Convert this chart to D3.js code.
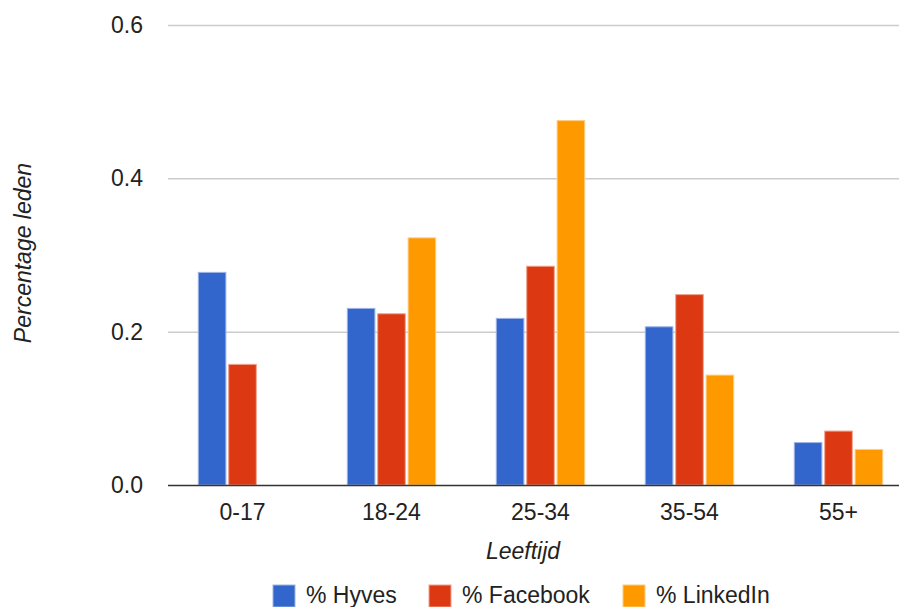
<!DOCTYPE html>
<html>
<head>
<meta charset="utf-8">
<script src="https://cdn.jsdelivr.net/npm/d3@7"></script>
<style>
  html, body { margin: 0; padding: 0; background: #fff; }
  text { font-family: "Liberation Sans", Arial, sans-serif; fill: #222; }
</style>
</head>
<body>
<div id="vis_container"></div>
<script>
// age groups and share of members per network
var ageGroups = ["0-17", "18-24", "25-34", "35-54", "55+"];
var seriesNames = ["% Hyves", "% Facebook", "% LinkedIn"];
var hyves    = [0.278, 0.231, 0.218, 0.207, 0.056];
var facebook = [0.158, 0.224, 0.286, 0.249, 0.071];
var linkedin = [0.000, 0.323, 0.476, 0.144, 0.047];
var yTicks = [0, 0.2, 0.4, 0.6];
var colors = ["#3366cc", "#dc3912", "#ff9900"];
var strokes = ["#9db4e6", "#f0a28c", "#ffcc80"];

var width = 899, height = 607;

var rows = ageGroups.map(function(g, i) {
    return { group: g, values: [hyves[i], facebook[i], linkedin[i]] };
});

var x = d3.scaleBand()
    .domain(ageGroups)
    .range([168, 913])
    .paddingInner(0.4)
    .paddingOuter(0.2);

var xs = d3.scaleBand()
    .domain(seriesNames)
    .range([0, x.bandwidth()])
    .paddingInner(0.06);

var y = d3.scaleLinear()
    .domain([0, 0.6])
    .range([485, 25]);

var svg = d3.select("#vis_container")
    .append("svg")
    .attr("width", width)
    .attr("height", height);

// gridlines
svg.append("g")
    .selectAll("line")
    .data(yTicks.filter(function(d) { return d > 0; }))
    .enter().append("line")
    .attr("x1", 168).attr("x2", width)
    .attr("y1", function(d) { return y(d) + 0.5; })
    .attr("y2", function(d) { return y(d) + 0.5; })
    .style("stroke", "#cccccc")
    .style("stroke-width", 1.5);

// y tick labels
svg.append("g")
    .selectAll("text")
    .data(yTicks)
    .enter().append("text")
    .attr("x", 143)
    .attr("y", function(d) { return y(d) + 8; })
    .style("text-anchor", "end")
    .style("font-size", "23px")
    .text(function(d) { return d3.format(".1f")(d); });

// bars
var groups = svg.append("g")
    .selectAll("g")
    .data(rows)
    .enter().append("g")
    .attr("transform", function(d) { return "translate(" + x(d.group) + ",0)"; });

groups.selectAll("rect")
    .data(function(d) { return d.values.map(function(v, j) { return { key: seriesNames[j], value: v, idx: j }; }); })
    .enter().append("rect")
    .filter(function(d) { return d.value > 0; })
    .attr("x", function(d) { return xs(d.key) + 0.5; })
    .attr("width", xs.bandwidth() - 1)
    .attr("y", function(d) { return y(d.value) + 0.5; })
    .attr("height", function(d) { return y(0) - y(d.value) - 0.5; })
    .style("fill", function(d) { return colors[d.idx]; })
    .style("stroke", function(d) { return strokes[d.idx]; })
    .style("stroke-width", 1);

// baseline
svg.append("line")
    .attr("x1", 168).attr("x2", width)
    .attr("y1", y(0) + 0.5).attr("y2", y(0) + 0.5)
    .style("stroke", "#333")
    .style("stroke-width", 1.5);

// x labels
svg.append("g")
    .selectAll("text")
    .data(ageGroups)
    .enter().append("text")
    .attr("x", function(d) { return x(d) + x.bandwidth() / 2; })
    .attr("y", 520)
    .style("text-anchor", "middle")
    .style("font-size", "23px")
    .text(function(d) { return d; });

// axis titles
svg.append("text")
    .attr("x", 523)
    .attr("y", 559)
    .style("text-anchor", "middle")
    .style("font-size", "23px")
    .style("font-style", "italic")
    .text("Leeftijd");

svg.append("text")
    .attr("transform", "translate(31,253) rotate(-90)")
    .style("text-anchor", "middle")
    .style("font-size", "23px")
    .style("font-style", "italic")
    .text("Percentage leden");

// legend
var legendX = [273, 429, 623];
var legend = svg.append("g")
    .selectAll("g")
    .data(seriesNames)
    .enter().append("g")
    .attr("transform", function(d, i) { return "translate(" + legendX[i] + ",585)"; });

legend.append("rect")
    .attr("width", 22).attr("height", 22)
    .style("fill", function(d, i) { return colors[i]; })
    .style("stroke", function(d, i) { return strokes[i]; });

legend.append("text")
    .attr("x", 33)
    .attr("y", 18)
    .style("font-size", "23px")
    .text(function(d) { return d; });
</script>
</body>
</html>
